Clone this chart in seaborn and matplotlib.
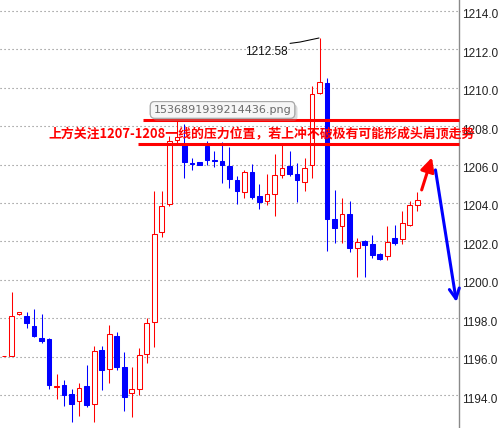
import numpy as np
import pandas as pd
import matplotlib
matplotlib.use("Agg")
import matplotlib.pyplot as plt
import matplotlib.transforms as mtransforms
import matplotlib.patheffects as pe
import seaborn as sns

# ---------------- data ----------------
opens = [1196.02, 1196.07, 1198.23, 1198.14, 1197.62, 1196.99, 1196.94, 1194.45, 1194.54, 1194.07,
         1193.69, 1194.49, 1193.53, 1196.37, 1195.36, 1197.10, 1195.48, 1194.10, 1194.31, 1196.14,
         1197.81, 1202.47, 1203.93, 1207.25, 1207.07, 1206.10, 1206.12, 1206.95, 1206.26, 1206.16,
         1205.91, 1205.19, 1204.58, 1205.59, 1204.36, 1204.12, 1204.45, 1205.48, 1205.91, 1205.53,
         1205.10, 1206.00, 1209.72, 1210.26, 1203.19, 1202.81, 1203.45, 1201.64, 1202.02, 1201.86,
         1201.34, 1201.26, 1202.19, 1202.12, 1202.88, 1203.92]
highs = [1196.06, 1199.39, 1198.33, 1198.35, 1198.50, 1198.24, 1196.96, 1195.11, 1194.80, 1194.33,
         1194.64, 1195.58, 1196.57, 1196.57, 1197.67, 1197.30, 1196.26, 1195.48, 1196.47, 1198.03,
         1204.60, 1204.62, 1207.50, 1208.35, 1208.10, 1206.34, 1206.14, 1207.20, 1206.72, 1207.16,
         1206.90, 1205.38, 1205.71, 1206.05, 1204.98, 1205.53, 1206.57, 1207.00, 1206.69, 1206.09,
         1206.36, 1210.10, 1212.58, 1210.52, 1204.67, 1204.27, 1204.10, 1202.20, 1202.07, 1202.33,
         1201.41, 1202.80, 1202.85, 1203.58, 1204.10, 1204.55]
lows = [1196.02, 1196.07, 1198.17, 1197.48, 1197.01, 1196.70, 1194.31, 1193.83, 1193.46, 1192.63,
        1192.94, 1193.41, 1192.63, 1194.30, 1194.66, 1195.29, 1193.20, 1192.89, 1193.99, 1195.67,
        1196.49, 1202.24, 1203.85, 1207.10, 1205.31, 1205.69, 1205.96, 1205.96, 1205.86, 1205.03,
        1204.78, 1203.97, 1204.24, 1204.20, 1203.69, 1203.89, 1203.32, 1205.30, 1205.41, 1204.07,
        1204.64, 1205.28, 1209.67, 1201.52, 1201.90, 1201.93, 1201.46, 1200.13, 1200.13, 1201.15,
        1201.06, 1201.03, 1201.84, 1201.86, 1202.80, 1203.60]
closes = [1196.06, 1198.10, 1198.33, 1197.74, 1197.06, 1196.85, 1194.56, 1194.49, 1194.03, 1193.57,
          1194.38, 1193.51, 1196.31, 1195.34, 1197.18, 1195.48, 1193.93, 1194.31, 1196.09, 1197.76,
          1202.41, 1203.83, 1207.21, 1207.45, 1206.12, 1206.03, 1205.98, 1206.26, 1206.16, 1205.98,
          1205.24, 1204.62, 1205.59, 1204.33, 1204.07, 1204.46, 1205.48, 1205.84, 1205.50, 1205.19,
          1205.84, 1209.67, 1210.28, 1203.19, 1202.71, 1203.45, 1201.64, 1201.98, 1201.84, 1201.32,
          1201.10, 1201.98, 1201.93, 1202.94, 1203.89, 1204.13]

y_ticks = [1194, 1196, 1198, 1200, 1202, 1204, 1206, 1208, 1210, 1212, 1214]
y_tick_labels = ["%.1f" % v for v in y_ticks]

high_label = "1212.58"
note_text = "上方关注1207-1208一线的压力位置，若上冲不破极有可能形成头肩顶走势"
tooltip_text = "1536891939214436.png"
resist_upper = 1208.31
resist_lower = 1207.09

UP = "#ff0000"
DOWN = "#0000ff"

df = pd.DataFrame({"open": opens, "high": highs, "low": lows, "close": closes})
df["x"] = np.arange(len(df))
df["up"] = df["close"] >= df["open"]

# ---------------- style ----------------
sns.set_theme(style="white")
plt.rcParams["font.family"] = ["Noto Sans CJK SC", "DejaVu Sans"]

fig = plt.figure(figsize=(5.02, 4.28), dpi=100)
ax = fig.add_axes([0, 0, 459 / 502, 1])
ax.set_facecolor("white")

# ---------------- candles ----------------
colors = np.where(df["up"], UP, DOWN)
ax.vlines(df["x"], df["low"], df["high"], colors=colors, linewidth=0.75, zorder=2)
body_bottom = np.minimum(df["open"], df["close"])
body_h = np.maximum(np.abs(df["close"] - df["open"]), 0.03)
faces = np.where(df["up"], "white", DOWN)
ax.bar(df["x"], body_h, bottom=body_bottom, width=0.62, color=faces,
       edgecolor=colors, linewidth=0.75, zorder=3)

# ---------------- axes ----------------
ax.set_xlim(-0.532, 60.55)
ax.set_ylim(1192.30, 1214.556)
ax.set_xticks([])
ax.set_yticks(y_ticks)
ax.set_yticklabels(y_tick_labels, fontsize=8.5, color="#222222", family="Liberation Sans")
ax.yaxis.tick_right()
ax.tick_params(axis="y", length=0, pad=2.2)
off = mtransforms.ScaledTranslation(0, -3 / 100, fig.dpi_scale_trans)
for lab in ax.get_yticklabels():
    lab.set_transform(lab.get_transform() + off)
for s in ["top", "left", "bottom"]:
    ax.spines[s].set_visible(False)
ax.spines["right"].set_color("#8a8a8a")
ax.spines["right"].set_linewidth(1.0)
ax.yaxis.grid(True, linestyle=(0, (1, 2.6)), color="#808080", linewidth=0.8, zorder=1)
ax.xaxis.grid(False)
ax.set_axisbelow(True)

# ---------------- annotations ----------------
# resistance lines
ax.plot([18.5, 60.55], [resist_upper, resist_upper], color=UP, lw=2.2, zorder=5,
        solid_capstyle="butt", clip_on=False)
ax.plot([17.87, 60.55], [resist_lower, resist_lower], color=UP, lw=2.2, zorder=5,
        solid_capstyle="butt", clip_on=False)

# tooltip-like box
t = ax.text(29.08, 1208.84, tooltip_text, ha="center", va="center", fontsize=8,
            color="#6a6a6a", family="DejaVu Sans", zorder=7,
            bbox=dict(boxstyle="round,pad=0.3,rounding_size=0.4", fc="#f6f6f6", ec="#a8a8a8", lw=0.8))
t.get_bbox_patch().set_path_effects([pe.withSimplePatchShadow(offset=(2, -2), shadow_rgbFace="#999999", alpha=0.35), pe.Normal()])

# high label and connector
ax.text(32.07, 1211.85, high_label, ha="left", va="center", fontsize=8.5,
        color="#111111", family="Liberation Sans", zorder=6)
ax.plot([38.06, 39.39, 41.92], [1212.30, 1212.37, 1212.58], color="black", lw=0.75, zorder=6)

# red note text
ax.text(5.86, 1207.56, note_text, ha="left", va="center", fontsize=9.3, fontweight="bold",
        color=UP, zorder=6, clip_on=False)

# arrows
ax.annotate("", xy=(56.95, 1206.37), xytext=(55.58, 1204.68),
            arrowprops=dict(arrowstyle="-|>,head_length=0.7,head_width=0.35", color=UP, lw=2.2,
                            shrinkA=0, shrinkB=0), zorder=6, annotation_clip=False)
ax.annotate("", xy=(60.21, 1198.85), xytext=(57.42, 1205.72),
            arrowprops=dict(arrowstyle="->,head_length=0.6,head_width=0.3", color=DOWN, lw=2.2,
                            shrinkA=0, shrinkB=0), zorder=6, annotation_clip=False)

fig.savefig("out.png", dpi=100, facecolor="white")
